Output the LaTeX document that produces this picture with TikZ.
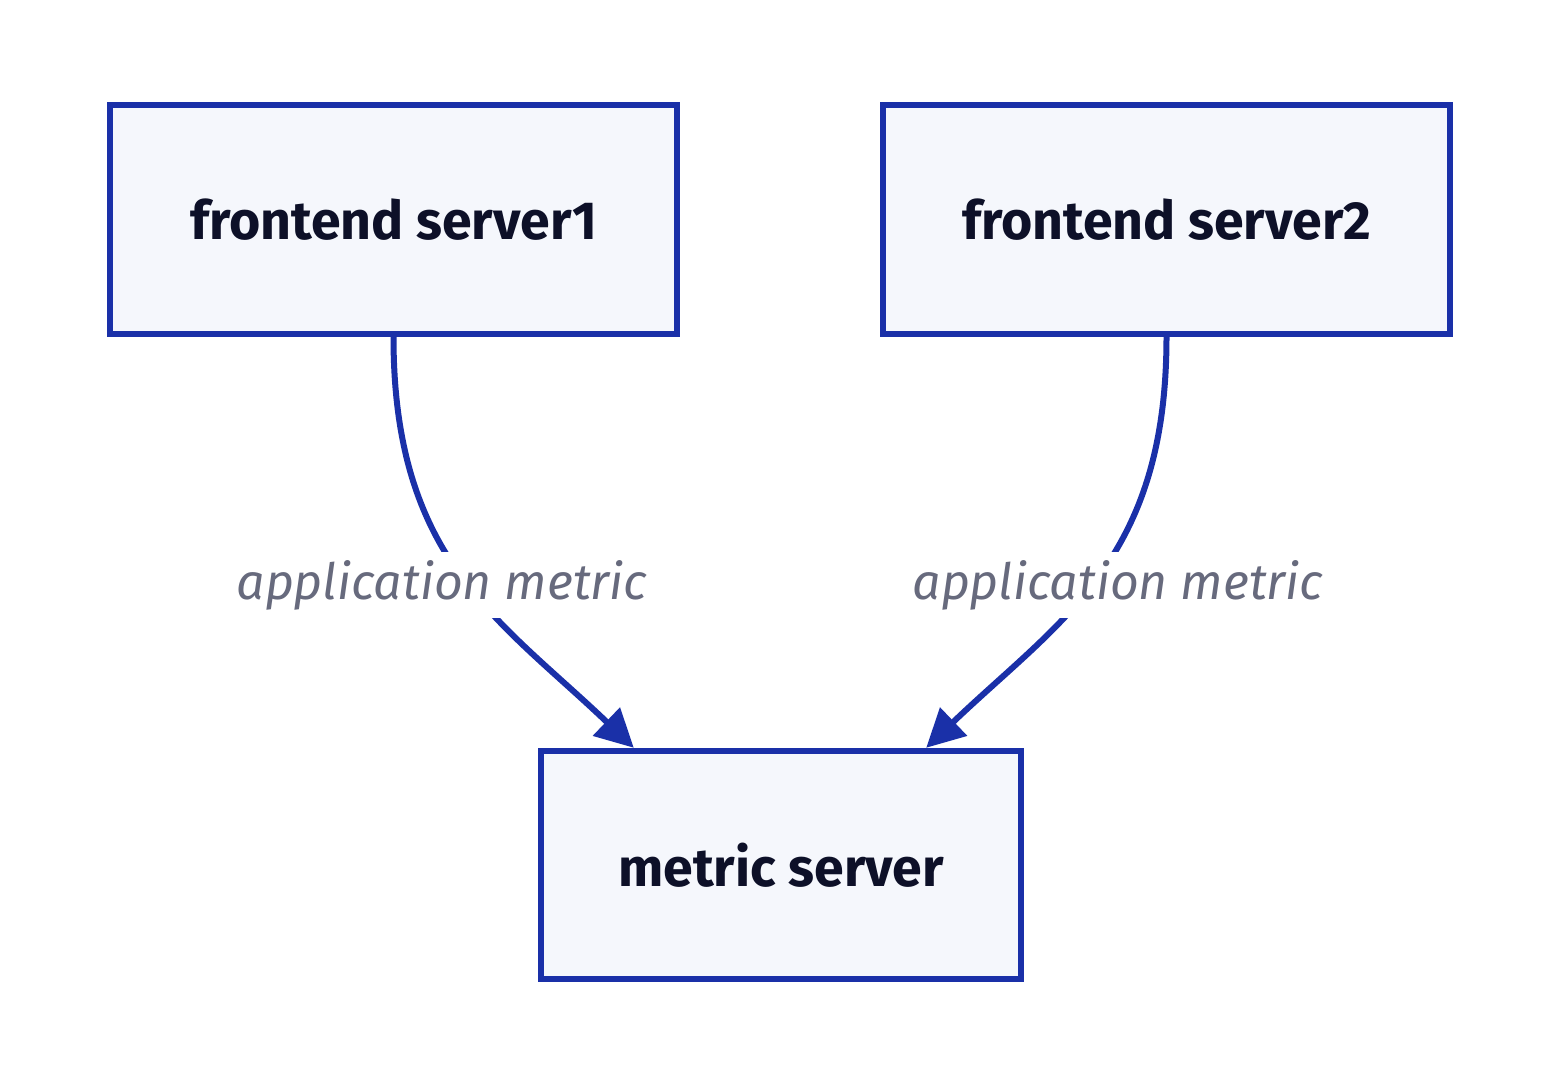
\documentclass[tikz,border=0pt]{standalone}
\usepackage{fontspec}
\setmainfont{Fira Sans}
\usetikzlibrary{arrows.meta,calc}
\definecolor{edgeblue}{RGB}{26,48,168}
\definecolor{boxfill}{RGB}{245,247,252}
\definecolor{boxtext}{RGB}{13,16,40}
\definecolor{labelgray}{RGB}{103,106,125}
\tikzset{
  server/.style={draw=edgeblue, fill=boxfill, line width=3.2pt, rectangle,
    inner sep=0pt, text=boxtext, font=\fontsize{26.8}{31}\selectfont\bfseries},
  flow/.style={draw=edgeblue, line width=3pt, -{Triangle[length=19pt,width=19pt]}},
  flowlabel/.style={fill=white, text=labelgray, inner sep=4pt,
    font=\fontsize{25}{29}\selectfont\itshape}
}
\begin{document}
\begin{tikzpicture}[x=0.5pt,y=-0.5pt]
\useasboundingbox[fill=white] (0,0) rectangle (1548,1086);
\node[server, minimum width=283.5pt, minimum height=114.5pt] (f1) at (393.5,219.5) {frontend server1};
\node[server, minimum width=283.5pt, minimum height=114.5pt] (f2) at (1166.5,219.5) {frontend server2};
\node[server, minimum width=240pt, minimum height=114pt] (m) at (781,865) {metric server};
\coordinate (t1) at ($(m.north west)+(96,0)$);
\coordinate (t2) at ($(m.north east)+(-98,0)$);
\draw[flow] (f1.south) .. controls (393.5,560) and (500,620) .. (t1);
\draw[flow] (f2.south) .. controls (1166.5,560) and (1060,620) .. (t2);
\node[flowlabel] (l1) at (442,585) {application metric};
\node[flowlabel] (l2) at (1118,585) {application metric};
\end{tikzpicture}
\end{document}
